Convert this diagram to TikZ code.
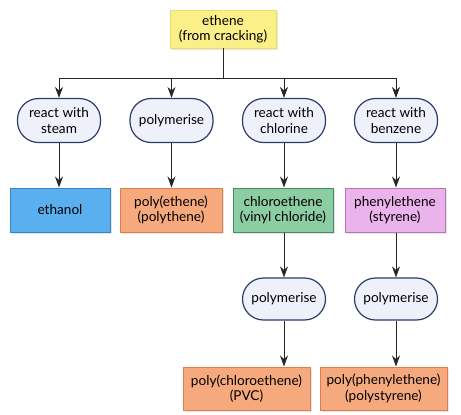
\documentclass[tikz,border=0pt]{standalone}
\usepackage{fontspec}
\setmainfont{Lato}
\usetikzlibrary{arrows.meta,shadows}

\definecolor{ethyellow}{HTML}{FBEF88}
\definecolor{ethyellowline}{HTML}{EEDC66}
\definecolor{prodblue}{HTML}{5AB0EE}
\definecolor{prodblueline}{HTML}{3486C8}
\definecolor{prodorange}{HTML}{F6A97C}
\definecolor{prodorangeline}{HTML}{DE7E4C}
\definecolor{prodgreen}{HTML}{8CCDA3}
\definecolor{prodgreenline}{HTML}{3E8C60}
\definecolor{prodpink}{HTML}{EBB3EB}
\definecolor{prodpinkline}{HTML}{B874B8}
\definecolor{stepline}{HTML}{2A3C68}
\definecolor{stepfill}{HTML}{EEF1FA}

\begin{document}
\begin{tikzpicture}[
    x=1pt,
    y=-1pt,
    every node/.style={font=\fontsize{13.6}{15.5}\selectfont, align=center, inner sep=1pt},
    start/.style={fill=ethyellow, draw=ethyellowline, line width=0.6pt,
      minimum width=106pt, minimum height=38pt,
      drop shadow={opacity=0.2, shadow xshift=1.5pt, shadow yshift=-1.5pt}},
    stepbox/.style={draw=stepline, fill=stepfill, line width=1.2pt,
      rounded corners=21pt, minimum width=83pt, minimum height=44pt},
    product/.style={line width=1pt, minimum width=100pt, minimum height=44pt,
      drop shadow={opacity=0.2, shadow xshift=1.5pt, shadow yshift=-1.5pt}},
    flow/.style={-{Stealth[length=11pt,width=8pt]}, line width=0.8pt, draw=black!85},
    link/.style={line width=0.8pt, draw=black!85}
  ]
    \useasboundingbox (0,0) rectangle (461,415);

    \node[start] (ethene) at (223,29) {ethene\\(from cracking)};
    \coordinate (split) at (223,78);

    % first row of steps
    \node[stepbox] (steam) at (59,120.5) {react with\\steam};
    \node[stepbox] (poly1) at (171.5,120.5) {polymerise};
    \node[stepbox] (chlorine) at (284,120.5) {react with\\chlorine};
    \node[stepbox] (benzene) at (396,120.5) {react with\\benzene};

    % products
    \node[product, fill=prodblue, draw=prodblueline] (ethanol) at (60,210) {ethanol};
    \node[product, fill=prodorange, draw=prodorangeline, minimum width=102pt] (polyethene) at (171,210) {poly(ethene)\\(polythene)};
    \node[product, fill=prodgreen, draw=prodgreenline] (chloro) at (283,210) {chloroethene\\(vinyl chloride)};
    \node[product, fill=prodpink, draw=prodpinkline] (phenyl) at (395,210) {phenylethene\\(styrene)};

    % second polymerisation
    \node[stepbox, minimum height=42pt] (poly2) at (284,299) {polymerise};
    \node[stepbox, minimum height=42pt] (poly3) at (396,299) {polymerise};

    \node[product, fill=prodorange, draw=prodorangeline, minimum width=127pt, minimum height=43pt] (pvc) at (246.5,388.5) {poly(chloroethene)\\(PVC)};
    \node[product, fill=prodorange, draw=prodorangeline, minimum width=127pt, minimum height=43pt] (polystyrene) at (383.5,388.5) {poly(phenylethene)\\(polystyrene)};

    \draw[link] (ethene) -- (split);
    \draw[link] (steam.north |- split) -- (benzene.north |- split);
    \foreach \n in {steam,poly1,chlorine,benzene}
      \draw[flow] (\n.north |- split) -- (\n);

    \draw[flow] (steam) -- (steam |- ethanol.north);
    \draw[flow] (poly1) -- (poly1 |- polyethene.north);
    \draw[flow] (chlorine) -- (chlorine |- chloro.north);
    \draw[flow] (benzene) -- (benzene |- phenyl.north);

    \draw[flow] (chloro.south -| poly2) -- (poly2);
    \draw[flow] (phenyl.south -| poly3) -- (poly3);
    \draw[flow] (poly2) -- (poly2 |- pvc.north);
    \draw[flow] (poly3) -- (poly3 |- polystyrene.north);
  \end{tikzpicture}
\end{document}
